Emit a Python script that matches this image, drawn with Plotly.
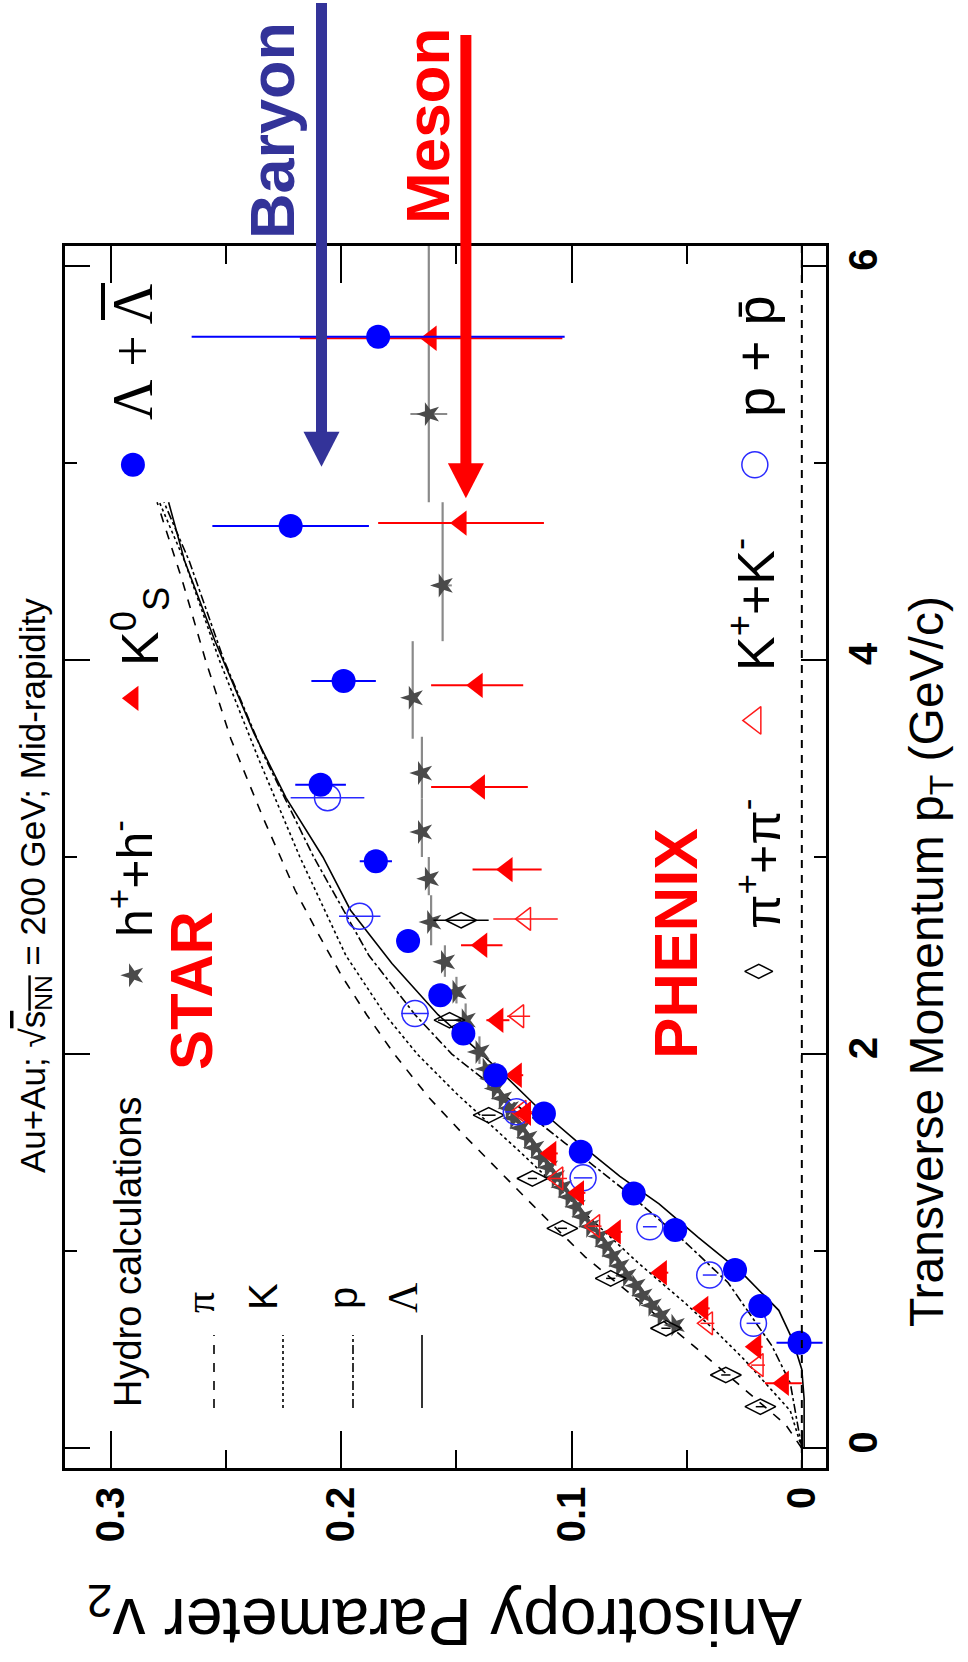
import plotly.graph_objects as go

# ---------------- data (pT in GeV/c, v2) ----------------
# STAR charged hadrons h+ + h- (dense low-pT band)
h_pt = [0.625, 0.675, 0.725, 0.775, 0.825, 0.875, 0.925, 0.975, 1.025, 1.075,
        1.125, 1.175, 1.225, 1.275, 1.325, 1.375, 1.425, 1.475, 1.525, 1.575,
        1.625, 1.675, 1.725, 1.775, 1.825, 1.875, 1.925]
h_v2 = [0.055, 0.061, 0.065, 0.069, 0.072, 0.076, 0.079, 0.082, 0.085, 0.088,
        0.092, 0.095, 0.098, 0.101, 0.104, 0.107, 0.110, 0.113, 0.116, 0.119,
        0.122, 0.125, 0.127, 0.130, 0.133, 0.135, 0.137]
# STAR charged hadrons, high-pT bins
hh_pt = [2.011, 2.172, 2.316, 2.468, 2.67, 2.89, 3.127, 3.426, 3.808, 4.378, 5.247]
hh_v2 = [0.140, 0.146, 0.150, 0.155, 0.161, 0.162, 0.165, 0.165, 0.169, 0.156, 0.162]
hh_lo = [1.95, 2.09, 2.257, 2.392, 2.552, 2.806, 3.0, 3.296, 3.60, 4.095, 4.80]
hh_hi = [2.09, 2.257, 2.392, 2.552, 2.806, 3.0, 3.296, 3.61, 4.095, 4.80, 6.1]
hh_err = [0.0, 0.0, 0.0, 0.0, 0.0, 0.0, 0.0, 0.0, 0.0, 0.004, 0.008]

# STAR Lambda + anti-Lambda
lam_pt = [0.536, 0.722, 0.904, 1.107, 1.293, 1.504, 1.699, 1.893, 2.104, 2.299,
          2.574, 2.978, 3.367, 3.893, 4.68, 5.64]
lam_v2 = [0.001, 0.018, 0.029, 0.055, 0.073, 0.096, 0.112, 0.133, 0.147, 0.157,
          0.171, 0.185, 0.209, 0.199, 0.222, 0.184]
lam_err = [0.010, 0.003, 0.003, 0.003, 0.003, 0.003, 0.003, 0.003, 0.004, 0.004,
           0.005, 0.007, 0.011, 0.014, 0.034, 0.081]

# STAR K0S
k0_pt = [0.33, 0.515, 0.71, 0.891, 1.098, 1.296, 1.496, 1.699, 1.893, 2.172,
         2.552, 2.936, 3.355, 3.871, 4.694, 5.632]
k0_v2 = [0.008, 0.020, 0.043, 0.061, 0.081, 0.097, 0.109, 0.120, 0.124, 0.132,
         0.139, 0.128, 0.140, 0.141, 0.148, 0.161]
k0_err = [0.008, 0.003, 0.003, 0.003, 0.003, 0.003, 0.003, 0.003, 0.003, 0.005,
          0.009, 0.015, 0.021, 0.020, 0.036, 0.057]

# PHENIX pi+ + pi-
pi_pt = [0.211, 0.372, 0.609, 0.862, 1.116, 1.369, 1.69, 2.172, 2.679]
pi_v2 = [0.018, 0.033, 0.059, 0.083, 0.104, 0.117, 0.136, 0.153, 0.148]
pi_err = [0.002, 0.002, 0.002, 0.002, 0.002, 0.002, 0.003, 0.005, 0.012]

# PHENIX K+ + K-
kc_pt = [0.422, 0.634, 1.127, 1.369, 1.707, 2.192, 2.686]
kc_v2 = [0.019, 0.041, 0.090, 0.106, 0.122, 0.123, 0.120]
kc_err = [0.003, 0.003, 0.003, 0.004, 0.005, 0.005, 0.014]

# PHENIX p + pbar
p_pt = [0.634, 0.879, 1.124, 1.372, 1.707, 2.206, 2.699, 3.301]
p_v2 = [0.021, 0.040, 0.066, 0.095, 0.124, 0.168, 0.192, 0.206]
p_err = [0.003, 0.003, 0.003, 0.004, 0.005, 0.006, 0.009, 0.016]

# Hydro calculations
hy_pi_pt = [0, 0.12, 0.31, 0.52, 0.75, 0.97, 1.2, 1.39, 1.58, 1.78, 2.0, 2.2, 2.4,
            2.61, 2.83, 3.2, 3.6, 4.0, 4.4, 4.8]
hy_pi_v2 = [0, 0.007, 0.026, 0.047, 0.071, 0.094, 0.114, 0.130, 0.146, 0.162, 0.177,
            0.189, 0.200, 0.210, 0.220, 0.234, 0.248, 0.259, 0.269, 0.280]
hy_k_pt = [0, 0.19, 0.45, 0.59, 0.74, 0.94, 1.2, 1.5, 1.8, 2.0, 2.2, 2.5, 3.0, 3.5,
           4.0, 4.5, 4.8]
hy_k_v2 = [0, 0.005, 0.025, 0.037, 0.051, 0.071, 0.095, 0.122, 0.150, 0.167, 0.181,
           0.198, 0.218, 0.236, 0.253, 0.268, 0.279]
hy_p_pt = [0, 0.33, 0.52, 0.84, 1.05, 1.31, 1.55, 1.8, 2.0, 2.2, 2.5, 3.0, 3.5, 4.0,
           4.5, 4.8]
hy_p_v2 = [0, 0.005, 0.013, 0.032, 0.051, 0.077, 0.103, 0.130, 0.152, 0.168, 0.188,
           0.212, 0.233, 0.251, 0.266, 0.277]
hy_l_pt = [0, 0.25, 0.4, 0.55, 0.7, 0.89, 1.07, 1.24, 1.38, 1.56, 1.72, 1.88, 2.0,
           2.2, 2.46, 2.73, 3.0, 3.3, 3.63, 4.1, 4.5, 4.8]
hy_l_v2 = [-0.001, -0.001, 0.0, 0.004, 0.010, 0.026, 0.045, 0.062, 0.079, 0.098,
           0.114, 0.128, 0.139, 0.158, 0.178, 0.196, 0.208, 0.224, 0.238, 0.255,
           0.268, 0.275]

# Saturation arrows (v2 level, pT of arrow tip)
arrow_baryon = (0.2086, 4.98)
arrow_meson = (0.1459, 4.82)

# Axis ticks
v2_ticks = [0, 0.1, 0.2, 0.3]
v2_ticktext = ["0", "0.1", "0.2", "0.3"]
v2_minor = [0.05, 0.15, 0.25]
pt_ticks = [0, 2, 4, 6]
pt_minor = [1, 3, 5]

# ---------------- layout constants ----------------
W, H = 968, 1662
ML, MR, MT, MB = 65, 142, 246, 194
X_RANGE = [0.32, -0.0105]
Y_RANGE = [-0.1, 6.1]
PW, PH = W - ML - MR, H - MT - MB
SANS = "Liberation Sans, Arial, Helvetica, sans-serif"
SERIF = "Liberation Serif, Times New Roman, serif"


def px2paper(X, Y):
    return (X - ML) / PW, (H - MB - Y) / PH


def data2px(v2, pt):
    X = ML + (v2 - X_RANGE[0]) / (X_RANGE[1] - X_RANGE[0]) * PW
    Y = MT + PH - (pt - Y_RANGE[0]) / (Y_RANGE[1] - Y_RANGE[0]) * PH
    return X, Y


fig = go.Figure()

# hydro curves
for xs, ys, dash in [(hy_pi_pt, hy_pi_v2, "dash"), (hy_k_pt, hy_k_v2, "dot"),
                     (hy_p_pt, hy_p_v2, "dashdot"), (hy_l_pt, hy_l_v2, "solid")]:
    fig.add_trace(go.Scatter(x=ys, y=xs, mode="lines",
                             line=dict(color="black", width=1.6, dash=dash),
                             showlegend=False, hoverinfo="skip"))

GRAY = "#4a4a4a"
# h+ + h- dense
fig.add_trace(go.Scatter(x=h_v2, y=h_pt, mode="markers",
                         marker=dict(symbol="star", size=17, color=GRAY, angle=-90),
                         showlegend=False))
# h+ + h- high pT with bins
fig.add_trace(go.Scatter(
    x=hh_v2, y=hh_pt, mode="markers",
    marker=dict(symbol="star", size=18, color=GRAY, angle=-90),
    error_y=dict(type="data", symmetric=False,
                 array=[hi - c for hi, c in zip(hh_hi, hh_pt)],
                 arrayminus=[c - lo for lo, c in zip(hh_lo, hh_pt)],
                 color="#8a8a8a", thickness=2.2, width=0),
    error_x=dict(type="data", array=hh_err, color="#8a8a8a", thickness=2, width=0),
    showlegend=False))

# PHENIX pions
fig.add_trace(go.Scatter(x=pi_v2, y=pi_pt, mode="markers",
                         marker=dict(symbol="diamond-wide-open", size=22, color="black",
                                     line=dict(width=1.5, color="black")),
                         error_x=dict(type="data", array=pi_err, color="black",
                                      thickness=1.5, width=0),
                         showlegend=False))
# PHENIX kaons
fig.add_trace(go.Scatter(x=kc_v2, y=kc_pt, mode="markers",
                         marker=dict(symbol="triangle-left-open", size=20, color="#ff1a1a",
                                     line=dict(width=1.5, color="#ff1a1a")),
                         error_x=dict(type="data", array=kc_err, color="#ff1a1a",
                                      thickness=1.5, width=0),
                         showlegend=False))
# PHENIX protons
fig.add_trace(go.Scatter(x=p_v2, y=p_pt, mode="markers",
                         marker=dict(symbol="circle-open", size=26, color="#2a2aff",
                                     line=dict(width=1.5, color="#2a2aff")),
                         error_x=dict(type="data", array=p_err, color="#2a2aff",
                                      thickness=1.5, width=0),
                         showlegend=False))
# STAR K0S
fig.add_trace(go.Scatter(x=k0_v2, y=k0_pt, mode="markers",
                         marker=dict(symbol="triangle-left", size=22, color="#ff0000"),
                         error_x=dict(type="data", array=k0_err, color="#ff0000",
                                      thickness=2, width=0),
                         showlegend=False))
# STAR Lambda
fig.add_trace(go.Scatter(x=lam_v2, y=lam_pt, mode="markers",
                         marker=dict(symbol="circle", size=24, color="#0000ff"),
                         error_x=dict(type="data", array=lam_err, color="#0000ff",
                                      thickness=2, width=0),
                         showlegend=False))

# ---------------- legend keys (markers) ----------------
legend_keys = [
    ("star", 18, GRAY, 0.2905, 2.40, -90, 0),
    ("triangle-left", 22, "#ff0000", 0.2905, 3.805, 0, 0),
    ("circle", 24, "#0000ff", 0.2905, 4.99, 0, 0),
    ("diamond-wide-open", 20, "black", 0.0187, 2.42, 0, 1.5),
    ("triangle-left-open", 24, "#ff1a1a", 0.0204, 3.693, 0, 1.5),
    ("circle-open", 26, "#2a2aff", 0.0204, 4.99, 0, 1.5),
]
for sym, sz, col, kx, ky, ang, lw in legend_keys:
    fig.add_trace(go.Scatter(x=[kx], y=[ky], mode="markers",
                             marker=dict(symbol=sym, size=sz, color=col, angle=ang,
                                         line=dict(width=lw, color=col)),
                             showlegend=False, hoverinfo="skip"))

shapes = []
# zero line
shapes.append(dict(type="line", xref="x", yref="paper", x0=0, x1=0, y0=0, y1=1,
                   line=dict(color="black", width=2, dash="8px,7px")))

# hydro legend samples
for Xs, dash in [(214, "dash"), (283, "dot"), (353, "dashdot"), (422, "solid")]:
    x0, y0 = px2paper(Xs, 1408)
    _, y1 = px2paper(Xs, 1335)
    shapes.append(dict(type="line", xref="paper", yref="paper", x0=x0, x1=x0,
                       y0=y0, y1=y1, line=dict(color="black", width=1.6, dash=dash)))

# bar over the anti-Lambda in the legend
bx, by0 = px2paper(103, 283)
_, by1 = px2paper(103, 320)
shapes.append(dict(type="line", xref="paper", yref="paper", x0=bx, x1=bx, y0=by0, y1=by1,
                   line=dict(color="black", width=4)))

# arrows
for (av2, apt), top_px, col in [(arrow_baryon, 3, "#333399"), (arrow_meson, 35, "#ff0000")]:
    X, Ytip = data2px(av2, apt)
    head = 35
    hw = 18
    xa, ya = px2paper(X, top_px)
    xb, yb = px2paper(X, Ytip - head + 2)
    shapes.append(dict(type="line", xref="paper", yref="paper", x0=xa, x1=xb, y0=ya, y1=yb,
                       line=dict(color=col, width=11)))
    p1 = px2paper(X - hw, Ytip - head)
    p2 = px2paper(X + hw, Ytip - head)
    p3 = px2paper(X, Ytip)
    shapes.append(dict(type="path", xref="paper", yref="paper",
                       path=f"M {p1[0]},{p1[1]} L {p2[0]},{p2[1]} L {p3[0]},{p3[1]} Z",
                       fillcolor=col, line=dict(color=col, width=0)))

# ---------------- text ----------------
annotations = []


def txt(text, X, Y, size, color="black", bold=False, angle=-90, family=SANS):
    xp, yp = px2paper(X, Y)
    annotations.append(dict(text=text, x=xp, y=yp, xref="paper", yref="paper",
                            showarrow=False, textangle=angle, xanchor="center",
                            yanchor="middle",
                            font=dict(family=family, size=size, color=color,
                                      weight="bold" if bold else "normal")))


txt("Baryon", 272, 131, 63, "#333399", True)
txt("Meson", 428, 126, 62, "#ff0000", True)
txt("Au+Au; √<span style='text-decoration:overline'>s<sub>NN</sub></span> = 200 GeV; Mid-rapidity",
    35, 886, 35)
txt("STAR", 191, 991, 60, "#ff0000", True)
txt("PHENIX", 675, 944, 62, "#ff0000", True)
txt("Hydro calculations", 128, 1252, 38)
txt("π", 200, 1303, 42, family=SERIF)
txt("K", 263, 1297, 40)
txt("p", 343, 1298, 40)
txt("Λ", 403, 1298, 42, family=SERIF)
txt("h<sup>+</sup>+h<sup>-</sup>", 131, 879, 50)
txt("K<sup>0</sup><sub>S</sub>", 140, 627, 52)
txt("Λ + Λ", 133, 352, 56, family=SERIF)
txt("π<sup>+</sup>+π<sup>-</sup>", 759, 864, 50)
txt("K<sup>+</sup>+K<sup>-</sup>", 752, 605, 52)
txt("p + p\u0304", 755, 356, 54)
txt("Transverse Momentum p<sub>T</sub> (GeV/c)", 930, 962, 48)
txt("Anisotropy Parameter v<sub>2</sub>", 445, 1617, 66, angle=180)

fig.update_layout(
    width=W, height=H,
    margin=dict(l=ML, r=MR, t=MT, b=MB, pad=0),
    paper_bgcolor="white", plot_bgcolor="white",
    shapes=shapes, annotations=annotations,
    xaxis=dict(range=X_RANGE, tickvals=v2_ticks, ticktext=v2_ticktext,
               ticks="inside", ticklen=37, tickwidth=2, tickcolor="black",
               minor=dict(tickvals=v2_minor, ticks="inside", ticklen=18, tickwidth=2,
                          tickcolor="black"),
               showline=True, linecolor="black", linewidth=2.5, mirror="ticks",
               showgrid=False, zeroline=False, tickangle=-90,
               tickfont=dict(family=SANS, size=40, color="black", weight="bold")),
    yaxis=dict(range=Y_RANGE, side="right", tickvals=pt_ticks,
               ticks="inside", ticklen=25, tickwidth=2, tickcolor="black",
               minor=dict(tickvals=pt_minor, ticks="inside", ticklen=12, tickwidth=2,
                          tickcolor="black"),
               showline=True, linecolor="black", linewidth=2.5, mirror="ticks",
               showgrid=False, zeroline=False, tickangle=-90,
               tickfont=dict(family=SANS, size=40, color="black", weight="bold")),
)

fig.write_html("out.html")
